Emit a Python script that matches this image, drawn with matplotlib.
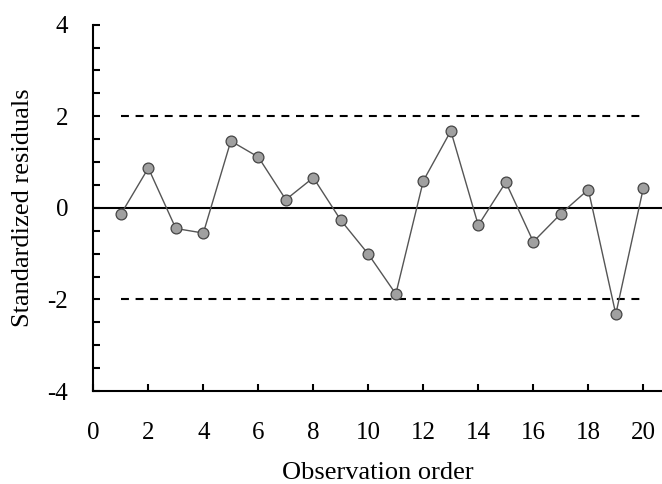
import numpy as np
import matplotlib
matplotlib.use('Agg')
import matplotlib.pyplot as plt
from matplotlib.ticker import MultipleLocator

# observation order and standardized residuals
order = np.arange(1, 21)
residuals = [-0.14, 0.87, -0.45, -0.55, 1.46, 1.11, 0.18, 0.66, -0.27, -1.01,
             -1.88, 0.59, 1.68, -0.38, 0.56, -0.74, -0.13, 0.40, -2.32, 0.43]
limits = [2, -2]
xticks = list(range(0, 21, 2))
yticks = [-4, -2, 0, 2, 4]

plt.rcParams['font.family'] = ['Liberation Serif', 'DejaVu Serif']
plt.rcParams['axes.unicode_minus'] = False

fig = plt.figure(figsize=(6.62, 4.84), dpi=100)
ax = fig.add_axes([0.141, 0.192, 0.859, 0.757])

ax.axhline(0, color='black', linewidth=1.5, zorder=1)
for lim in limits:
    ax.plot([order[0], order[-1]], [lim, lim], color='black', linewidth=1.5,
            dashes=(3.8, 3.2), zorder=1)

ax.plot(order, residuals, color='#555555', linewidth=1.0, marker='o',
        markersize=7.8, markerfacecolor='#a0a0a0', markeredgecolor='#444444',
        markeredgewidth=0.9, zorder=3)

ax.set_xlim(0, 20.68)
ax.set_ylim(-4, 4)
ax.set_xticks(xticks)
ax.set_yticks(yticks)
ax.yaxis.set_minor_locator(MultipleLocator(0.5))

for side in ['top', 'right']:
    ax.spines[side].set_visible(False)
for side in ['left', 'bottom']:
    ax.spines[side].set_linewidth(1.5)

ax.tick_params(axis='both', which='both', direction='in', width=1.5,
               length=5, labelsize=18)
ax.tick_params(axis='x', which='major', pad=22)
ax.tick_params(axis='y', which='major', pad=18)

ax.set_xlabel('Observation order', fontsize=19, labelpad=13)
ax.set_ylabel('Standardized residuals', fontsize=19, labelpad=10)

plt.savefig('out.png', dpi=100)
